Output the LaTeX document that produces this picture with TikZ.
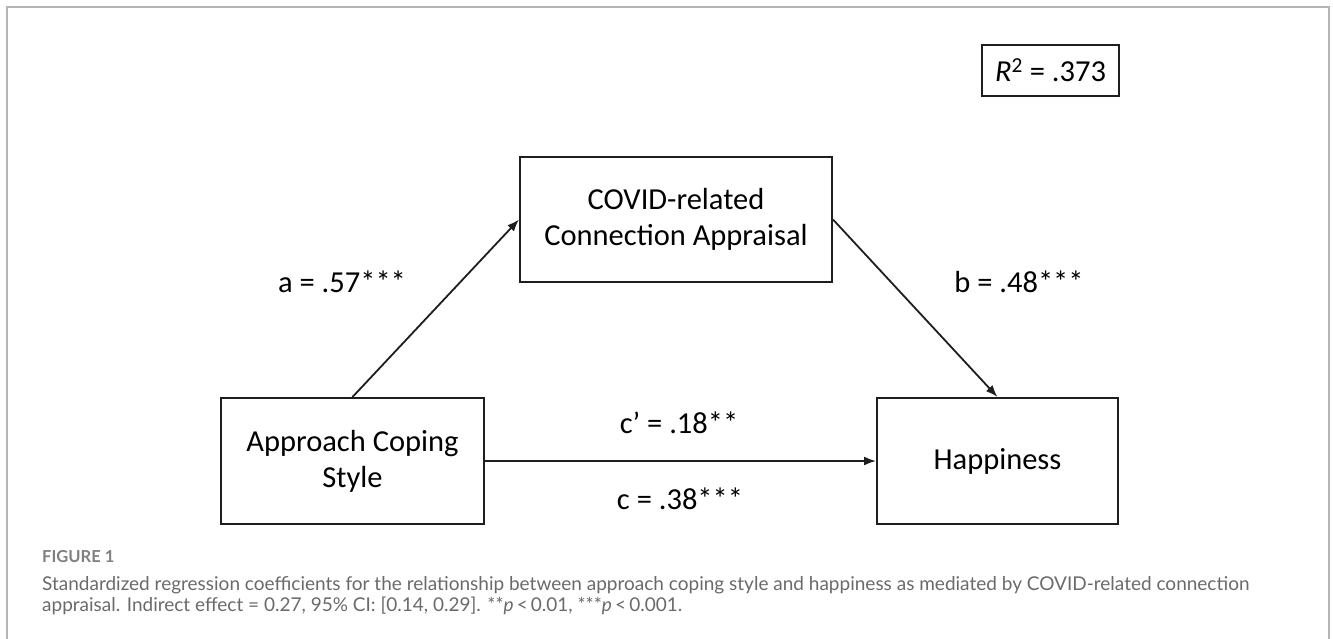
\documentclass[tikz,border=0pt]{standalone}
\usepackage{fontspec}
\setmainfont{Carlito}
\newfontfamily\capfont{Lato}
\usepackage{xcolor}
\usetikzlibrary{arrows.meta,positioning}
\definecolor{framegray}{HTML}{B4B4B4}
\definecolor{capgray}{HTML}{6A6A6A}
\definecolor{ink}{HTML}{1E1E1E}

\begin{document}
\begin{tikzpicture}[x=1pt,y=-1pt,
    box/.style={draw=ink, line width=2pt, minimum width=#1, minimum height=126pt,
        align=center, inner sep=0pt, font=\fontsize{30.5}{36}\selectfont},
    arr/.style={draw=ink, line width=1.8pt, -{Latex[length=12pt,width=9pt]}},
    lab/.style={font=\fontsize{30.5}{36}\selectfont, inner sep=0pt},
    captext/.style={anchor=base west, inner sep=0pt, text=capgray, font=\capfont\fontsize{19}{22}\selectfont}]
    \useasboundingbox (0,0) rectangle (1333,639);

    % Frame round the figure
    \draw[framegray, line width=2pt] (7,639) -- (7,7) -- (1329,7) -- (1329,639);

    % Model boxes
    \node[box=263pt] (acs) at (352.5,461) {Approach Coping\\Style};
    \node[box=312pt, minimum height=125pt] (cov) at (676,219.5) {COVID-related\\Connection Appraisal};
    \node[box=241pt] (hap) at (997.5,461) {Happiness};
    \node[box=137pt, minimum height=51pt, line width=1.6pt] (rsq) at (1050.5,70.5)
        {{\itshape R}\textsuperscript{2} = .373};

    % Paths
    \draw[arr] (acs.north) -- (cov.west);
    \draw[arr] (cov.east) -- (hap.north);
    \draw[arr] (acs.east) -- (hap.west);

    % Coefficients
    \node[lab] (la) at (342,282) {a = .57***};
    \node[lab] (lb) at (1019,282) {b = .48***};
    \node[lab] (lcp) at (679,423) {c’ = .18**};
    \node[lab] (lc) at (680,499) {c = .38***};

    % Caption
    \node[captext, font=\capfont\bfseries\fontsize{16.5}{18}\selectfont, text=capgray!85] (fig) at (42,562) {FIGURE 1};
    \node[captext] (cap1) at (42,590) {Standardized regression coefficients for the relationship between approach coping style and happiness as mediated by COVID-related connection};
    \node[captext] (cap2) at (42,611) {appraisal. Indirect effect = 0.27, 95\% CI: [0.14, 0.29]. **\textit{p}\,<\,0.01, ***\textit{p}\,<\,0.001.};
\end{tikzpicture}
\end{document}
